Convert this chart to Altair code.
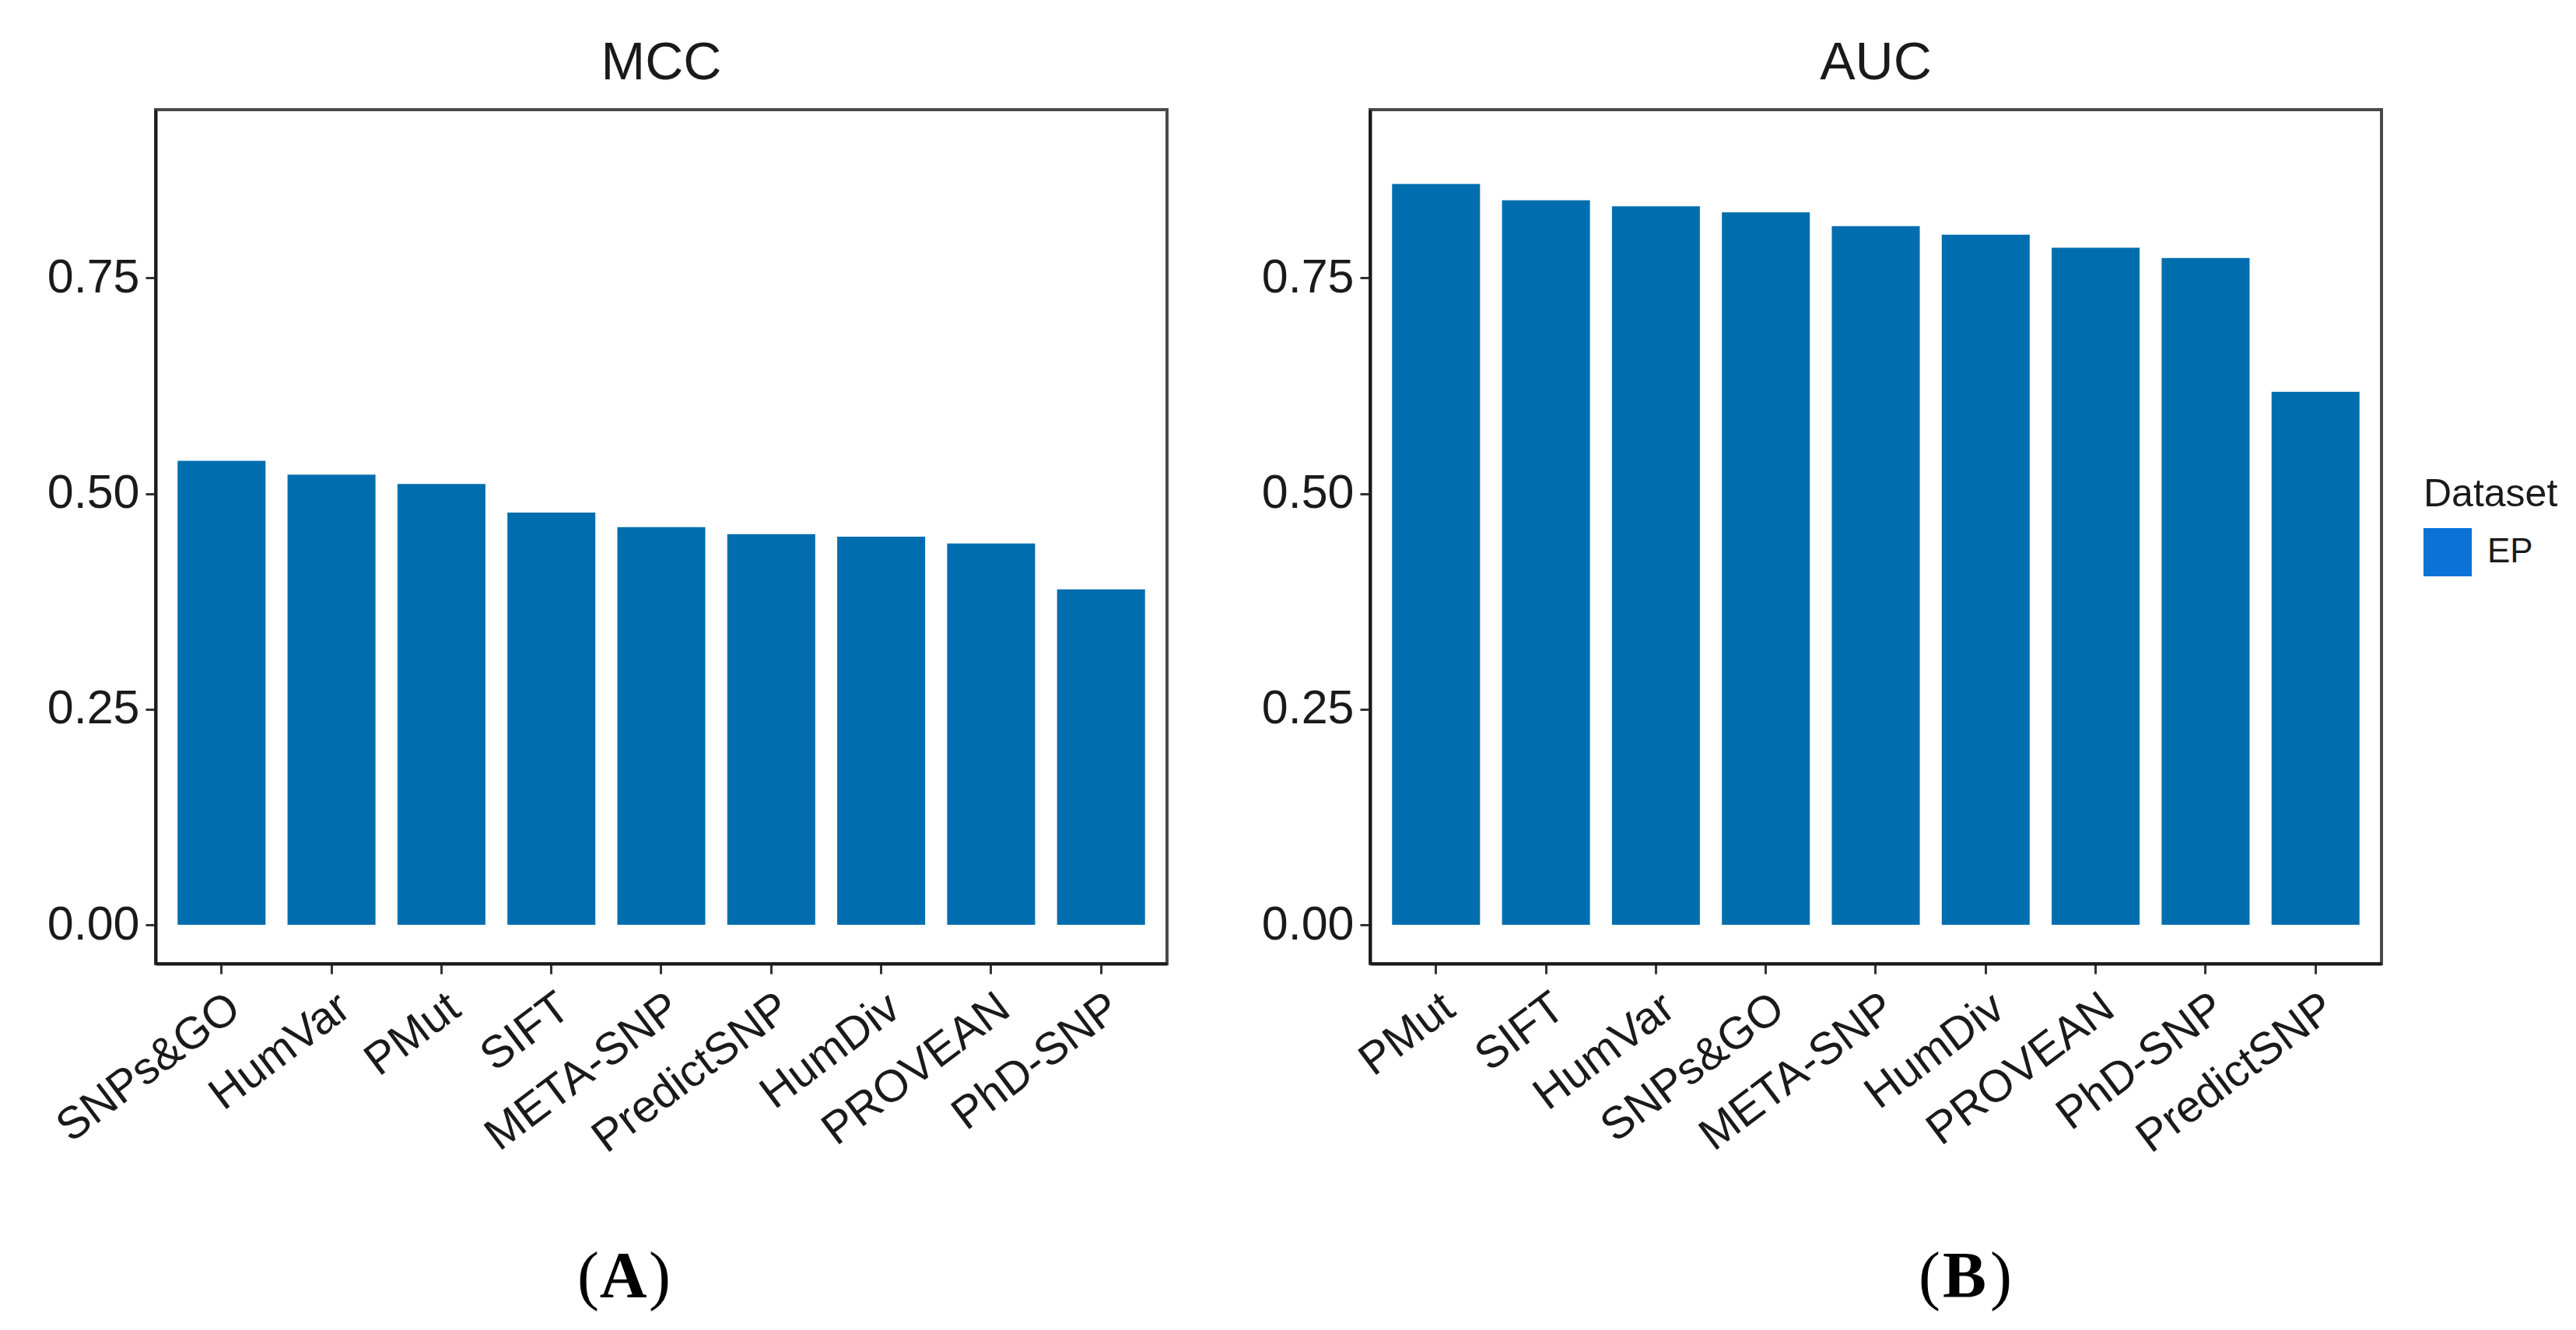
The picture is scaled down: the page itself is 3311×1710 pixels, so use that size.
import altair as alt
import pandas as pd

# ---- data ----
mcc_tools = ["SNPs&GO", "HumVar", "PMut", "SIFT", "META-SNP", "PredictSNP", "HumDiv", "PROVEAN", "PhD-SNP"]
mcc_values = [0.538, 0.522, 0.511, 0.478, 0.461, 0.453, 0.450, 0.442, 0.389]
auc_tools = ["PMut", "SIFT", "HumVar", "SNPs&GO", "META-SNP", "HumDiv", "PROVEAN", "PhD-SNP", "PredictSNP"]
auc_values = [0.859, 0.840, 0.833, 0.826, 0.810, 0.800, 0.785, 0.773, 0.618]
panel_titles = ["MCC", "AUC"]
panel_letters = ["A", "B"]
dataset_name = "EP"
y_ticks = [0, 0.25, 0.5, 0.75]

BAR = "#006EAE"
LEG = "#0B72D8"
W, H = 1300, 1098
FONT = "Liberation Sans"
SERIF = "Liberation Serif"


def panel(tools, values, title, letter, letter_x, with_legend):
    df = pd.DataFrame({"Tool": tools, "Value": values, "Dataset": [dataset_name] * len(tools)})
    base = alt.Chart(df)
    bars = base.mark_bar(color=BAR).encode(
        x=alt.X("Tool:N", sort=tools, title=None,
                scale=alt.Scale(paddingInner=0.2, paddingOuter=0.2),
                axis=alt.Axis(labelAngle=-37, labelAlign="right", labelBaseline="top",
                              labelFontSize=58, labelPadding=14, labelFont=FONT, labelLimit=0,
                              labelColor="#1a1a1a", domainColor="#1a1a1a", domainWidth=4,
                              tickColor="#333333", tickWidth=3, tickSize=13)),
        y=alt.Y("Value:Q", title=None,
                scale=alt.Scale(domain=[-0.045, 0.945], nice=False),
                axis=alt.Axis(values=y_ticks, format=".2f", labelFontSize=61, labelFont=FONT,
                              labelColor="#1a1a1a", labelPadding=8, grid=False,
                              domainColor="#1a1a1a", domainWidth=4,
                              tickColor="#333333", tickWidth=3, tickSize=13, minExtent=190)),
    )
    ann = alt.Chart(alt.Data(values=[{"t": letter}]))
    mid = ann.mark_text(font=SERIF, fontSize=84, fontWeight="bold", align="center",
                        baseline="alphabetic", color="black").encode(
        x=alt.value(letter_x), y=alt.value(1527), text="t:N")
    lp = ann.mark_text(font=SERIF, fontSize=84, align="right", baseline="alphabetic",
                       color="black", text="(").encode(x=alt.value(letter_x - 31), y=alt.value(1527))
    rp = ann.mark_text(font=SERIF, fontSize=84, align="left", baseline="alphabetic",
                       color="black", text=")").encode(x=alt.value(letter_x + 33), y=alt.value(1527))
    layers = [bars, lp, mid, rp]
    if with_legend:
        leg = base.transform_filter("false").mark_square().encode(
            color=alt.Color("Dataset:N",
                            scale=alt.Scale(domain=[dataset_name], range=[LEG]),
                            legend=alt.Legend(title="Dataset", orient="none", legendX=1354, legendY=470,
                                              titleFontSize=50, titleFont=FONT, titleFontWeight="normal",
                                              titleColor="#1a1a1a", titlePadding=18,
                                              labelFontSize=44, labelFont=FONT, labelColor="#1a1a1a",
                                              labelOffset=20, symbolType="square", symbolSize=3844,
                                              symbolStrokeWidth=0, symbolOpacity=1)))
        layers.append(leg)
    return alt.layer(*layers).properties(
        width=W, height=H,
        title=alt.TitleParams(title, fontSize=68, font=FONT, fontWeight="normal",
                              color="#1a1a1a", anchor="middle", offset=25))


left = panel(mcc_tools, mcc_values, panel_titles[0], panel_letters[0], 601, False)
right = panel(auc_tools, auc_values, panel_titles[1], panel_letters[1], 764, True)

chart = alt.hconcat(left, right, spacing=67).resolve_scale(color="independent").resolve_legend(
    color="independent").properties(
    padding={"left": 0, "top": 38, "right": 0, "bottom": 0},
    background="white"
).configure_view(stroke="#4a4a4a", strokeWidth=4)

chart.save("out.html", embed_options={"renderer": "svg", "actions": False})
